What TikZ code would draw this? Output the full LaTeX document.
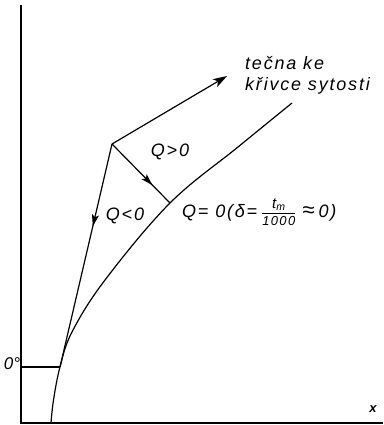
\documentclass[tikz,border=0pt]{standalone}
\usepackage{fontspec}
\setmainfont{Liberation Sans}
\usetikzlibrary{arrows.meta,decorations.markings}
\tikzset{
  ln/.style={line width=1.2pt},
  axis/.style={line width=1.6pt},
  lbl/.style={font=\fontsize{18}{20}\selectfont\itshape\addfontfeature{LetterSpace=10}, inner sep=0pt},
  midarrow/.style={decoration={markings,mark=at position #1 with {\arrow{Stealth[length=12pt,width=7pt,inset=2.5pt]}}},postaction={decorate}}
}
\begin{document}
\begin{tikzpicture}[x=1pt,y=-1pt]
\useasboundingbox (0,0) rectangle (383,425);
% axes
\coordinate (O) at (21,423);
\coordinate (Ytop) at (21,5);
\coordinate (Xend) at (383,423);
\draw[axis] (Ytop) -- (O) -- (Xend);
% saturation curve
\draw[ln] plot[smooth,tension=0.6] coordinates {(51,423) (53.5,400) (60,367) (72,332) (105,280) (170,203) (238,147) (292,103)};
% points
\coordinate (P) at (112,144);
\coordinate (T) at (227,76);
\coordinate (C) at (170,203);
\coordinate (B) at (60,367);
\coordinate (Z) at (21,367);
\draw[ln] (Z) -- (B);
\draw[ln,-{Stealth[length=14pt,width=9pt,inset=3.5pt]}] (P) -- (T);
\draw[ln,midarrow=0.37] (P) -- (B);
\draw[ln,midarrow=0.70] (P) -- (C);
% labels
\node[lbl,anchor=west] (t1) at (245,63) {tečna ke};
\node[lbl,anchor=west] (t2) at (245,86) {křivce sytosti};
\node[lbl] (qp) at (170,152) {Q>0};
\node[lbl] (qn) at (125,216) {Q<0};
\node[lbl,anchor=west] (q0) at (182,212) {Q= 0(δ=\hspace{4pt}$\frac{\raisebox{2pt}{\fontsize{15}{16}\selectfont\itshape t\textsubscript{m}}}{\raisebox{-2pt}{\fontsize{13}{14}\selectfont\itshape\addfontfeature{LetterSpace=10}1000}}$\hspace{6pt}{\fontsize{22}{22}\selectfont≈}\hspace{4pt}0)};
\node[lbl,font=\fontsize{17}{19}\selectfont\itshape] (deg) at (12,364) {0°};
\node[lbl,font=\fontsize{13}{15}\selectfont\bfseries\itshape] (xl) at (373,409) {x};
\end{tikzpicture}
\end{document}
